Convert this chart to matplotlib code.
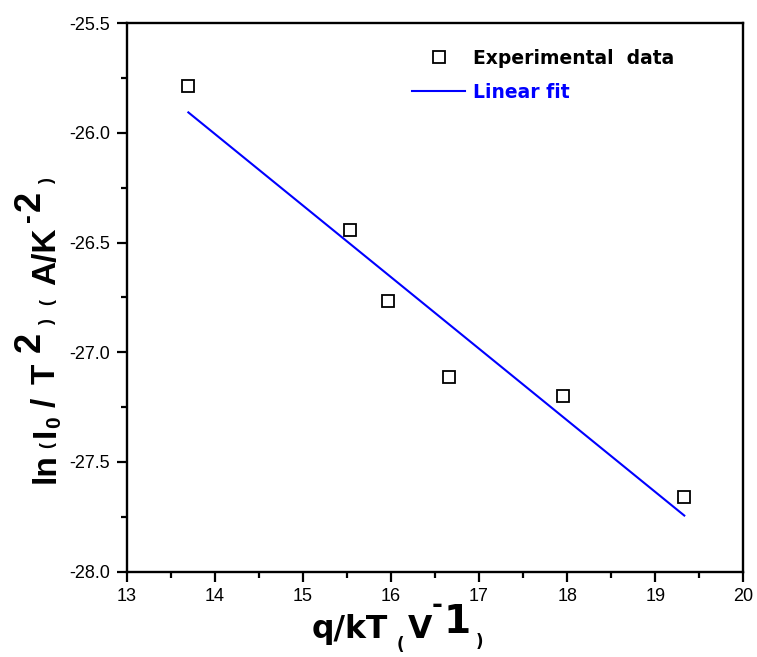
import numpy as np
import matplotlib
matplotlib.use("Agg")
import matplotlib.pyplot as plt
from matplotlib.transforms import IdentityTransform
from matplotlib.ticker import MultipleLocator, FormatStrFormatter

# Richardson plot: ln(I0/T^2) against q/kT
q_kT = np.array([13.70, 15.54, 15.97, 16.66, 17.95, 19.33])
ln_I0_T2 = np.array([-25.786, -26.444, -26.768, -27.114, -27.199, -27.662])

x_ticks = [13, 14, 15, 16, 17, 18, 19, 20]
y_ticks = [-28.0, -27.5, -27.0, -26.5, -26.0, -25.5]

W, H = 757, 657
plt.rcParams["axes.unicode_minus"] = False
plt.rcParams["font.family"] = ["Liberation Sans", "DejaVu Sans"]

fig = plt.figure(figsize=(W / 100, H / 100), dpi=100)
L, R, T, B = 126.7, 743.3, 23.3, 571.5
ax = fig.add_axes([L / W, 1 - B / H, (R - L) / W, (B - T) / H])

# least-squares line over the measured range
slope, intercept = np.polyfit(q_kT, ln_I0_T2, 1)
x_fit = np.array([q_kT.min(), q_kT.max()])
fit_line, = ax.plot(x_fit, slope * x_fit + intercept, color="#0000ff", lw=1.5, zorder=2)
points, = ax.plot(q_kT, ln_I0_T2, ls="none", marker="s", ms=9, mfc="white",
                  mec="black", mew=1.3, zorder=3)

ax.set_xlim(x_ticks[0], x_ticks[-1])
ax.set_ylim(y_ticks[0], y_ticks[-1])
ax.set_xticks(x_ticks)
ax.set_yticks(y_ticks)
ax.xaxis.set_minor_locator(MultipleLocator(0.5))
ax.yaxis.set_minor_locator(MultipleLocator(0.25))
ax.yaxis.set_major_formatter(FormatStrFormatter("%.1f"))
for s in ax.spines.values():
    s.set_linewidth(1.7)
ax.tick_params(which="both", direction="out", top=False, right=False, width=1.6)
ax.tick_params(which="major", length=7, labelsize=13, pad=5)
ax.tick_params(which="minor", length=4.3)

leg = ax.legend([points, fit_line], ["Experimental  data", "Linear fit"],
                loc="upper left", bbox_to_anchor=(412 / W, 1 - 49 / H),
                bbox_transform=fig.transFigure, frameon=False,
                prop={"family": "DejaVu Sans", "weight": "bold", "size": 13.5},
                handlelength=2.83, handletextpad=0.43, labelspacing=0.78,
                borderpad=0, borderaxespad=0)
leg.get_texts()[1].set_color("#0000ff")

renderer = fig.canvas.get_renderer()


def rich_run(pieces, start, base, family, vertical=False):
    """Lay out (text, size, raise_px, gap_px) pieces one after another in pixels."""
    pos = start
    for text, size, rise, gap in pieces:
        if vertical:
            pos -= gap
            t = fig.text(base - rise, H - pos, text, fontsize=size, fontweight="bold",
                         family=family, rotation=90, rotation_mode="anchor",
                         ha="left", va="baseline", transform=IdentityTransform())
            pos -= t.get_window_extent(renderer).height
        else:
            pos += gap
            t = fig.text(pos, H - (base - rise), text, fontsize=size, fontweight="bold",
                         family=family, ha="left", va="baseline",
                         transform=IdentityTransform())
            pos += t.get_window_extent(renderer).width


x_label = [
    ("q/kT", 22.7, 0, 0),
    ("(", 12, -12, 9),
    ("V", 22.7, 0, 3),
    ("-", 19, 25, 0),
    ("1", 28, 5, 1),
    (")", 12, -9, 5),
]
rich_run(x_label, 311.7, 638.3, ["DejaVu Sans"])

y_label = [
    ("ln", 24, 0, 0),
    ("(", 13, 3, 5),
    ("I", 24, 0, 5),
    ("0", 15, -5, 0),
    ("/", 24, 0, 9),
    ("T", 24, 0, 14),
    ("2", 26, 15, 12),
    (")", 13, 3, 7),
    ("(", 13, 3, 14),
    ("A/K", 24, 0, 14),
    ("-", 19, 20, 5),
    ("2", 26, 15, 3),
    (")", 13, 3, 7),
]
rich_run(y_label, 483, 55, ["Liberation Sans"], vertical=True)

fig.savefig("out.png", dpi=100)
